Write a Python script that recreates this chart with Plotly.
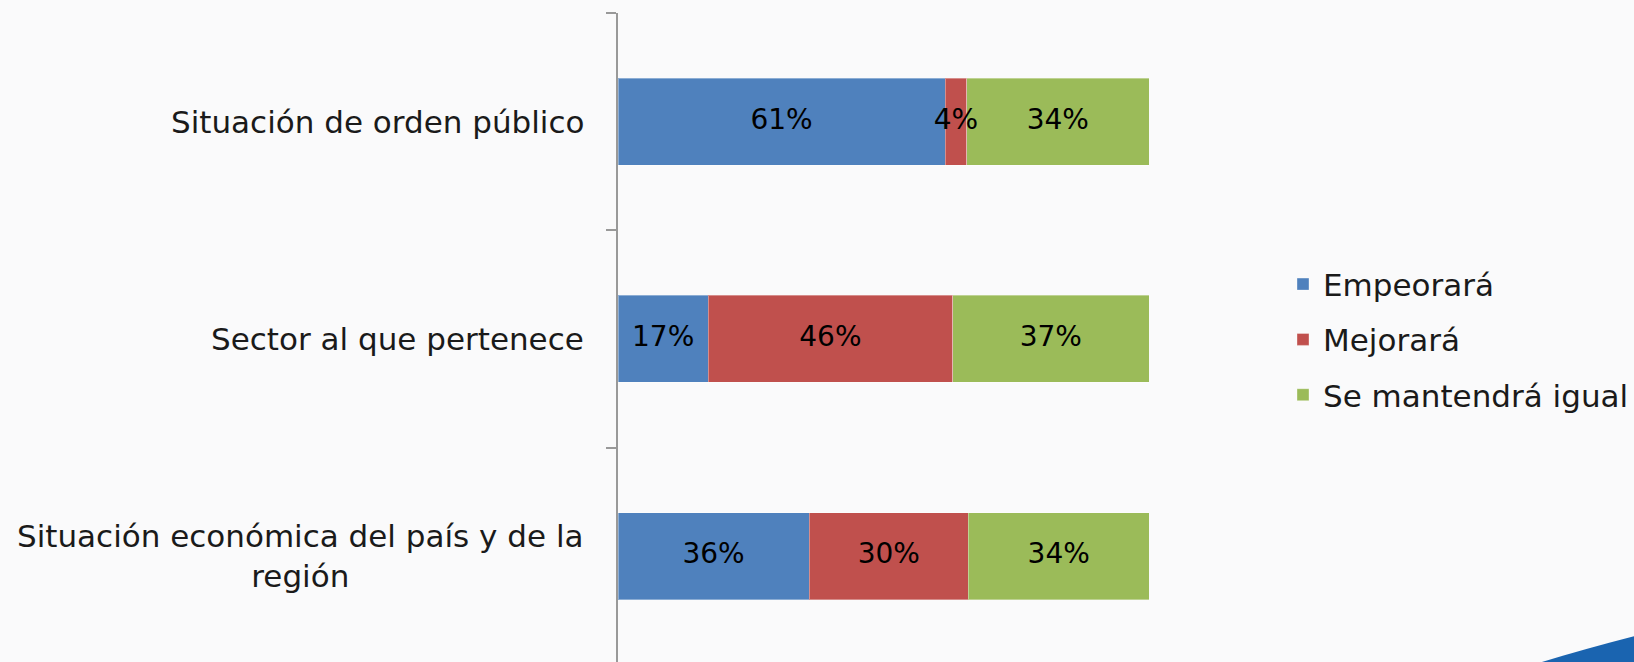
import plotly.graph_objects as go

# categories bottom -> top
categorias = [
    "Situación económica del país y de la<br>región",
    "Sector al que pertenece",
    "Situación de orden público",
]
empeorara = [36, 17, 61]
mejorara = [30, 46, 4]
se_mantendra = [34, 37, 34]

series = [
    ("Empeorará", empeorara, "#4f81bd"),
    ("Mejorará", mejorara, "#c0504d"),
    ("Se mantendrá igual", se_mantendra, "#9bbb59"),
]

FONT = "DejaVu Sans"
BG = "#fafafb"

fig = go.Figure()
for name, vals, color in series:
    fig.add_trace(go.Bar(
        y=categorias, x=vals, name=name, orientation="h",
        marker=dict(color=color, line=dict(color="rgba(255,255,255,0.35)", width=1)),
        legendgroup=name, hoverinfo="skip",
    ))

# data labels on top of all bars (midpoint of each normalized segment)
totales = [sum(t) for t in zip(empeorara, mejorara, se_mantendra)]
lab_x, lab_y, lab_t = [], [], []
for i, cat in enumerate(categorias):
    acum = 0
    for _, vals, _ in series:
        pct = vals[i] / totales[i] * 100
        lab_x.append(acum + pct / 2)
        lab_y.append(cat)
        lab_t.append(f"{vals[i]}%")
        acum += pct
fig.add_trace(go.Scatter(
    x=lab_x, y=lab_y, text=lab_t, mode="text", showlegend=False,
    textfont=dict(family=FONT, size=28, color="black"), hoverinfo="skip",
))

# category labels (centered multi-line, like the original)
for cat in categorias:
    fig.add_annotation(
        x=-0.06, xref="paper", y=cat, yref="y", text=cat,
        xanchor="right", yanchor="middle", align="center", showarrow=False,
        font=dict(family=FONT, size=31, color="#1a1a1a"),
    )

# decorative corner swoosh
fig.add_shape(
    type="path", xref="paper", yref="paper",
    path="M 1.74,0 Q 1.82,0.02 1.915,0.04 L 1.915,0 Z",
    fillcolor="#1a64b0", line=dict(width=0), layer="above",
)

fig.update_layout(
    barmode="stack", barnorm="percent", bargap=0.6,
    width=1634, height=662,
    margin=dict(l=618, r=484, t=13, b=0),
    paper_bgcolor=BG, plot_bgcolor=BG,
    font=dict(family=FONT, color="#1a1a1a"),
    legend=dict(
        x=1.252, xanchor="left", y=0.497, yanchor="middle",
        font=dict(family=FONT, size=31, color="#1a1a1a"),
        traceorder="grouped", tracegroupgap=12,
        bgcolor="rgba(0,0,0,0)",
    ),
    xaxis=dict(range=[0, 100], visible=False, fixedrange=True),
    yaxis=dict(
        type="category", range=[-0.487, 2.5],
        showline=True, linecolor="#999999", linewidth=2,
        ticks="outside", tickson="boundaries", ticklen=10,
        tickcolor="#999999", tickwidth=2,
        showticklabels=False, showgrid=False, zeroline=False,
    ),
)

fig.write_html("out.html", config={"displayModeBar": False},
               post_script="document.body.style.margin='0';")
